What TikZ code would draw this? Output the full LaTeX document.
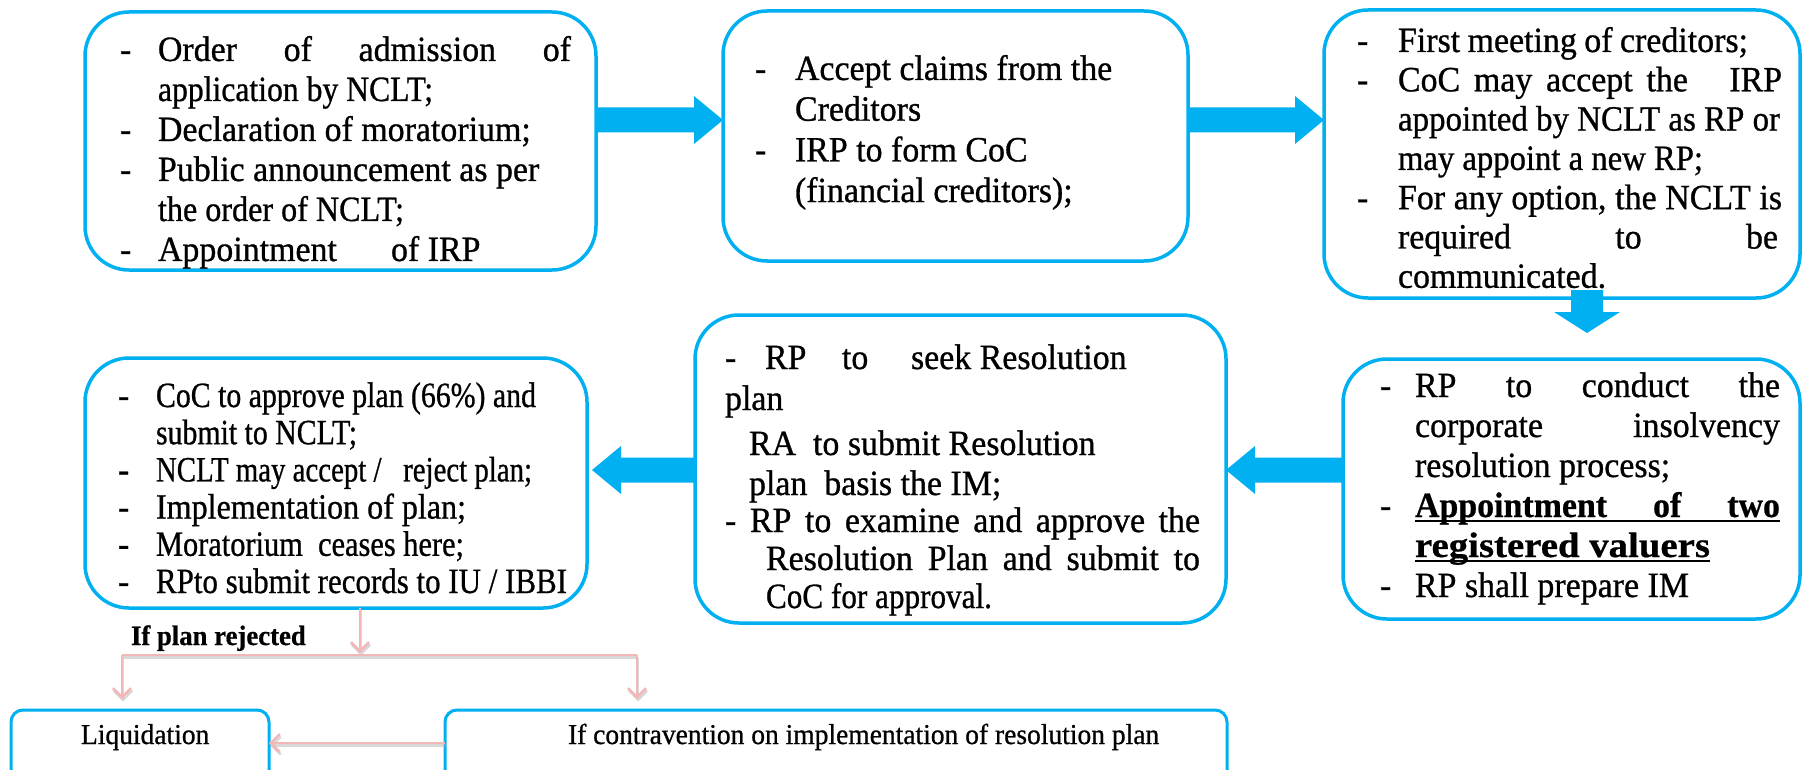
\documentclass[tikz,border=0pt]{standalone}
\usepackage{fontspec}
\setmainfont{Liberation Serif}[FakeStretch=0.955,UprightFeatures={FakeBold=0.8},BoldFeatures={FakeBold=0.6}]
\usepackage{graphicx}
\usetikzlibrary{arrows.meta,calc}

\definecolor{flowblue}{RGB}{0,176,240}
\definecolor{linkpink}{RGB}{242,184,184}
\definecolor{linkshade}{RGB}{170,170,170}

% text helpers: dash column, fixed gap, justified line, squeezed line
\newcommand{\dcol}[1]{\makebox[#1][l]{-}}
\newcommand{\gap}[1]{\hspace*{#1}}
\newcommand{\jst}[2]{\makebox[#1][s]{#2}}
\newcommand{\fitto}[2]{\resizebox{#1}{\height}{#2}}

% horizontal block arrow from #1 to its tip #2
\newcommand{\hblock}[2]{%
  \fill[flowblue] let \p1=(#1), \p2=(#2), \n1={29*sign(\x2-\x1)} in
    (\x1,{\y1+12.5pt}) -- ({\x2-\n1*1pt},{\y1+12.5pt}) -- ({\x2-\n1*1pt},{\y1+24pt})
    -- (\x2,\y1) -- ({\x2-\n1*1pt},{\y1-24pt}) -- ({\x2-\n1*1pt},{\y1-12.5pt})
    -- (\x1,{\y1-12.5pt}) -- cycle;}

\tikzset{
  stepbox/.style={draw=flowblue, line width=3.5pt, rounded corners=44pt,
    outer sep=0pt, inner sep=0pt},
  endbox/.style={draw=flowblue, line width=3pt, rounded corners=12pt,
    outer sep=0pt, inner sep=0pt},
  body/.style={inner sep=0pt, outer sep=0pt, anchor=base west,
    font=\fontsize{35.5}{40}\selectfont},
  small/.style={inner sep=0pt, outer sep=0pt, anchor=base west,
    font=\fontsize{28.8}{31}\selectfont},
  link/.style={draw=linkpink, line width=2.5pt,
    preaction={draw=linkshade, line width=2.5pt, opacity=0.45,
      transform canvas={shift={(1pt,-2.5pt)}}}},
  linkarrow/.style={link, -{Straight Barb[length=9pt,width=18pt]}}
}

\begin{document}
\begin{tikzpicture}[x=1pt,y=-1pt]
\useasboundingbox (0,0) rectangle (1804,770);
\fill[white] (0,0) rectangle (1804,770);
\clip (0,0) rectangle (1804,770);

% process boxes
\node[stepbox, minimum width=511pt, minimum height=258pt] (b1) at (340.5,141) {};
\node[stepbox, minimum width=465pt, minimum height=250pt] (b2) at (955.5,136) {};
\node[stepbox, minimum width=476pt, minimum height=288pt] (b3) at (1562,154) {};
\node[stepbox, minimum width=457pt, minimum height=260pt] (b4) at (1571.5,489) {};
\node[stepbox, minimum width=531pt, minimum height=308pt] (b5) at (960.5,469) {};
\node[stepbox, minimum width=502pt, minimum height=250pt] (b6) at (336,483) {};
\node[endbox, minimum width=258pt, minimum height=90pt] (liq) at (140,755) {};
\node[endbox, minimum width=782pt, minimum height=90pt] (con) at (836,755) {};

% box texts
\node[body] (t1) at (120,61) {\vtop{\baselineskip=40pt\lineskiplimit=-\maxdimen
  \hbox{\dcol{38pt}\jst{413pt}{Order of admission of}}
  \hbox{\gap{38pt}\fitto{275pt}{application by NCLT;}}
  \hbox{\dcol{38pt}Declaration of moratorium;}
  \hbox{\dcol{38pt}Public announcement as per}
  \hbox{\gap{38pt}\fitto{246pt}{the order of NCLT;}}
  \hbox{\dcol{38pt}\makebox[233pt][l]{Appointment}of IRP}}};

\node[body] (t2) at (755,80) {\vtop{\baselineskip=40.7pt\lineskiplimit=-\maxdimen
  \hbox{\dcol{40pt}Accept claims from the}
  \hbox{\gap{40pt}Creditors}
  \hbox{\dcol{40pt}IRP to form CoC}
  \hbox{\gap{40pt}(financial creditors);}}};

\node[body] (t3) at (1357,52) {\vtop{\baselineskip=39.3pt\lineskiplimit=-\maxdimen
  \hbox{\dcol{41pt}\jst{350pt}{First meeting of creditors;}}
  \hbox{\dcol{41pt}\jst{384pt}{CoC may accept the\ \ \ IRP}}
  \hbox{\gap{41pt}\fitto{382pt}{appointed by NCLT as RP or}}
  \hbox{\gap{41pt}\fitto{305pt}{may appoint a new RP;}}
  \hbox{\dcol{41pt}\jst{384pt}{For any option, the NCLT is}}
  \hbox{\gap{41pt}\jst{380pt}{required to be}}
  \hbox{\gap{41pt}communicated.}}};

\node[body] (t4) at (1380,397) {\vtop{\baselineskip=40pt\lineskiplimit=-\maxdimen
  \hbox{\dcol{35pt}\jst{365pt}{RP to conduct the}}
  \hbox{\gap{35pt}\jst{365pt}{corporate insolvency}}
  \hbox{\gap{35pt}resolution process;}
  \hbox{\dcol{35pt}\rlap{\rule[-5pt]{365pt}{2.5pt}}\jst{365pt}{\bfseries Appointment of two}}
  \hbox{\gap{35pt}\rlap{\rule[-5pt]{295pt}{2.5pt}}\fitto{295pt}{\bfseries registered valuers}}
  \hbox{\dcol{35pt}RP shall prepare IM}}};

\node[body] (t5) at (725,369) {\vtop{\baselineskip=38pt\lineskiplimit=-\maxdimen
  \hbox{\makebox[40pt][l]{-}\makebox[77pt][l]{RP}\makebox[69pt][l]{to}seek Resolution}
  \kern3pt
  \hbox{plan}
  \kern7pt
  \hbox{\gap{24pt}RA\ \ to submit Resolution}
  \kern2pt
  \hbox{\gap{24pt}plan\ \ basis the IM;}
  \kern-1pt
  \hbox{\makebox[25pt][l]{-}\jst{450pt}{RP to examine and approve the}}
  \hbox{\gap{41pt}\jst{434pt}{Resolution Plan and submit to}}
  \hbox{\gap{41pt}\fitto{226pt}{CoC for approval.}}}};

\node[body] (t6) at (118,407) {\vtop{\baselineskip=37.2pt\lineskiplimit=-\maxdimen
  \hbox{\dcol{38pt}\fitto{380pt}{CoC to approve plan (66\%) and}}
  \hbox{\gap{38pt}\fitto{201pt}{submit to NCLT;}}
  \hbox{\dcol{38pt}\fitto{376pt}{NCLT may accept /\ \ \ reject plan;}}
  \hbox{\dcol{38pt}\fitto{310pt}{Implementation of plan;}}
  \hbox{\dcol{38pt}\fitto{308pt}{Moratorium\ \ ceases here;}}
  \hbox{\dcol{38pt}\fitto{411pt}{RPto submit records to IU / IBBI}}}};

\node[small] (liqt) at (81,744) {Liquidation};
\node[small] (cont) at (568,744) {If contravention on implementation of resolution plan};
\node[small, font=\bfseries\fontsize{28}{31}\selectfont] (rej) at (131,645) {If plan rejected};

% block arrows between the steps
\coordinate (upr) at (0,120);
\coordinate (lwr) at (0,470);
\coordinate (dn) at (1587,0);
\coordinate (dntip) at (1587,333);
\hblock{b1.east |- upr}{b2.west |- upr}
\hblock{b2.east |- upr}{b3.west |- upr}
\hblock{b4.west |- lwr}{b5.east |- lwr}
\hblock{b5.west |- lwr}{$(b6.east |- lwr)+(5,0)$}
\fill[flowblue] let \p1=(b3.south -| dn), \p2=(dntip) in
  ({\x1-16pt},{\y1+8pt}) -- ({\x1-16pt},{\y2+21pt}) -- ({\x1-33pt},{\y2+21pt}) -- (\x2,\y2)
  -- ({\x1+33pt},{\y2+21pt}) -- ({\x1+16pt},{\y2+21pt}) -- ({\x1+16pt},{\y1+8pt}) -- cycle;

% outcome connectors
\coordinate (split) at (360,655);
\coordinate (lb) at (122,655);
\coordinate (rb) at (637,655);
\coordinate (lowlvl) at (0,743);
\draw[linkarrow, shorten >=2pt] (b6.south -| split) -- (split);
\draw[link] (lb) -- (rb);
\draw[linkarrow, shorten >=11pt] (lb) -- (lb |- liq.north);
\draw[linkarrow, shorten >=11pt] (rb) -- (rb |- con.north);
\draw[linkarrow] (con.west |- lowlvl) -- (liq.east |- lowlvl);
\end{tikzpicture}
\end{document}
